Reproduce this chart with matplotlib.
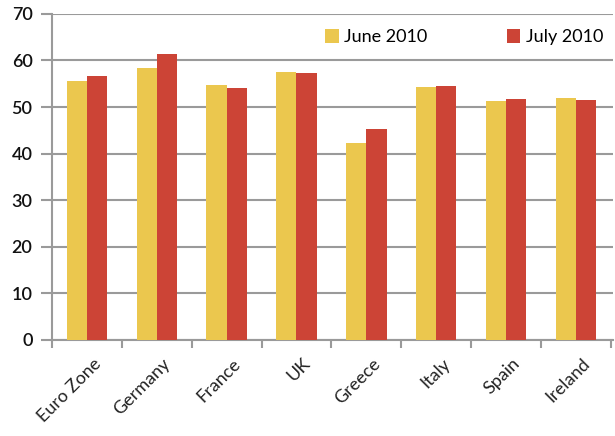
import matplotlib.pyplot as plt
import numpy as np
from matplotlib.transforms import ScaledTranslation

countries = ["Euro Zone", "Germany", "France", "UK", "Greece", "Italy", "Spain", "Ireland"]
june_2010 = [55.6, 58.4, 54.7, 57.6, 42.2, 54.4, 51.3, 51.9]
july_2010 = [56.7, 61.3, 54.0, 57.4, 45.3, 54.5, 51.7, 51.5]

plt.rcParams['font.family'] = ['Lato', 'DejaVu Sans']

fig = plt.figure(figsize=(6.15, 4.36), dpi=100)
ax = fig.add_axes([0.0846, 0.2202, 0.912, 0.748])

x = np.arange(len(countries))
w = 0.29
ax.bar(x - w / 2, june_2010, w, color='#EBC74E', label='June 2010', zorder=3)
ax.bar(x + w / 2, july_2010, w, color='#CC4436', label='July 2010', zorder=3)

ax.set_xlim(-0.5, len(countries) - 0.47)
ax.set_ylim(0, 70)
ax.set_yticks(range(0, 71, 10))
ax.yaxis.grid(True, color='#9a9a9a', linewidth=1.5, zorder=0)

# tick marks between categories
ax.set_xticks(np.arange(len(countries) + 1) - 0.5)
ax.set_xticklabels([])
ax.set_xticks(x, minor=True)
ax.set_xticklabels(countries, minor=True, rotation=45, ha='right',
                   rotation_mode='anchor', fontsize=13, color='#222222')
ax.tick_params(axis='x', which='minor', length=0, pad=11)
ax.tick_params(axis='x', which='major', length=6, width=1.5, color='#9a9a9a')
ax.tick_params(axis='y', length=8, width=1.5, color='#9a9a9a', labelsize=13,
               labelcolor='#111111', pad=6)
for lbl in ax.get_yticklabels():
    lbl.set_fontweight('semibold')
# nudge rotated labels right a bit
off = ScaledTranslation(4 / 72, 0, fig.dpi_scale_trans)
for lbl in ax.xaxis.get_minorticklabels():
    lbl.set_transform(lbl.get_transform() + off)

for s in ['top', 'right']:
    ax.spines[s].set_visible(False)
for s in ['left', 'bottom']:
    ax.spines[s].set_color('#9a9a9a')
    ax.spines[s].set_linewidth(1.5)

leg = ax.legend(loc='upper left', bbox_to_anchor=(0.52, 0.945), bbox_transform=fig.transFigure,
                ncol=2, frameon=True, fontsize=13, handlelength=0.75, handleheight=0.75,
                handletextpad=0.3, columnspacing=4.4, borderaxespad=0, borderpad=0.3)
leg.get_frame().set_facecolor('white')
leg.get_frame().set_edgecolor('white')
leg.get_frame().set_alpha(1)

fig.savefig('out.png', dpi=100)
